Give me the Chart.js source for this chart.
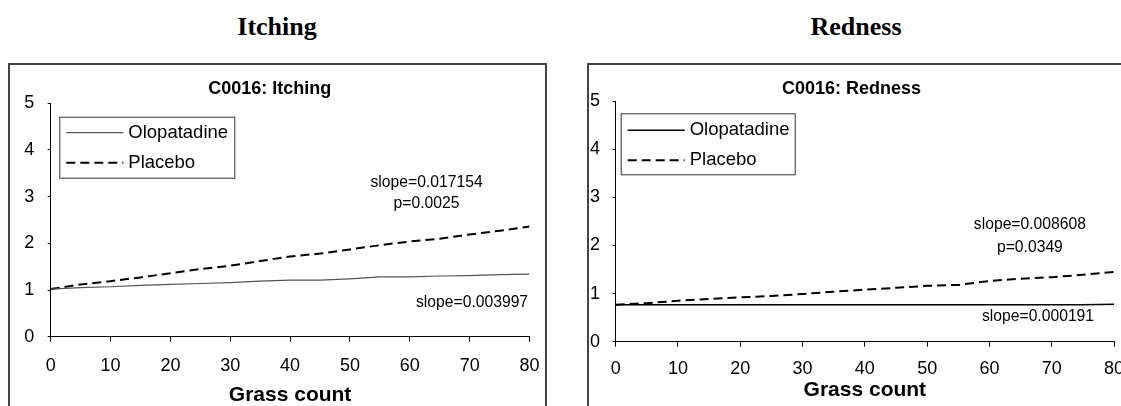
<!DOCTYPE html>
<html>
<head>
<meta charset="utf-8">
<script src="https://cdn.jsdelivr.net/npm/chart.js@4.4.1/dist/chart.umd.min.js"></script>
<style>
  html, body { margin: 0; padding: 0; background: #fff; overflow: hidden; }
  body { width: 1121px; height: 406px; position: relative; }
  .head { position: absolute; top: 12px; width: 300px; line-height: 30px; text-align: center;
    font: bold 26px 'Liberation Serif', 'Times New Roman', serif; color: #000; }
  .box { position: absolute; top: 63px; height: 341px; overflow: hidden;
    border: 2px solid #444; border-bottom: none; }
  canvas { display: block; }
</style>
</head>
<body>
<div class="head" style="left:127px">Itching</div>
<div class="head" style="left:706px">Redness</div>
<div class="box" style="left:8px; width:535px"><canvas id="itching" width="535" height="350"></canvas></div>
<div class="box" style="left:587px; width:532px; border-right:none"><canvas id="redness" width="536" height="350"></canvas></div>
<script>
(() => {
  'use strict'

  // Data
  const grassCount = [0, 5, 10, 15, 20, 25, 30, 35, 40, 45, 50, 55, 60, 65, 70, 75, 80]
  const itchOlopatadine = [1.02, 1.05, 1.07, 1.10, 1.12, 1.14, 1.16, 1.19, 1.21, 1.21, 1.24, 1.28, 1.28, 1.30, 1.31, 1.33, 1.34]
  const itchPlacebo = [1.02, 1.12, 1.19, 1.27, 1.36, 1.45, 1.52, 1.62, 1.72, 1.78, 1.87, 1.96, 2.04, 2.10, 2.19, 2.27, 2.36]
  const rednessOlopatadine = [0.77, 0.77, 0.77, 0.77, 0.77, 0.77, 0.77, 0.77, 0.77, 0.77, 0.77, 0.77, 0.77, 0.77, 0.77, 0.77, 0.78]
  const rednessPlacebo = [0.77, 0.80, 0.85, 0.89, 0.92, 0.95, 0.99, 1.04, 1.08, 1.12, 1.16, 1.18, 1.26, 1.31, 1.34, 1.39, 1.45]
  const grassTicks = [0, 10, 20, 30, 40, 50, 60, 70, 80]
  const scoreTicks = [0, 1, 2, 3, 4, 5]
  const seriesNames = ['Olopatadine', 'Placebo']
  const itchNotes = ['slope=0.017154', 'p=0.0025', 'slope=0.003997']
  const rednessNotes = ['slope=0.008608', 'p=0.0349', 'slope=0.000191']

  const sans = "'Liberation Sans', Arial, sans-serif"
  const placeboDash = [9, 5]

  // legend with a frame, drawn inside the plot area
  const boxLegend = {
    id: 'boxLegend',
    afterDatasetsDraw (chart, args, opts) {
      const { ctx, chartArea } = chart
      const left = chartArea.left + opts.x
      const top = chartArea.top + opts.y
      ctx.save()
      ctx.fillStyle = '#fff'
      ctx.fillRect(left, top, opts.w, opts.h)
      ctx.strokeStyle = '#333'
      ctx.lineWidth = 1
      ctx.strokeRect(left + 0.5, top + 0.5, opts.w, opts.h)
      chart.data.datasets.forEach((ds, i) => {
        const y = top + opts.rows[i]
        ctx.beginPath()
        ctx.strokeStyle = ds.borderColor
        ctx.lineWidth = ds.borderWidth
        ctx.setLineDash(ds.borderDash || [])
        ctx.moveTo(left + 7, y)
        ctx.lineTo(left + 64, y)
        ctx.stroke()
        ctx.setLineDash([])
        ctx.fillStyle = '#000'
        ctx.font = '18.5px ' + sans
        ctx.textBaseline = 'middle'
        ctx.textAlign = 'left'
        ctx.fillText(ds.label, left + 69, y)
      })
      ctx.restore()
    }
  }

  // slope / p texts, placed in data units
  const notes = {
    id: 'notes',
    afterDatasetsDraw (chart, args, opts) {
      const { ctx, scales } = chart
      ctx.save()
      ctx.fillStyle = '#000'
      ctx.font = '15.7px ' + sans
      ctx.textAlign = 'center'
      ctx.textBaseline = 'middle'
      opts.items.forEach(n => {
        ctx.fillText(n.text, scales.x.getPixelForValue(n.x), scales.y.getPixelForValue(n.y))
      })
      ctx.restore()
    }
  }

  function makeChart (id, oloValues, plaValues, cfg) {
    return new Chart(document.getElementById(id), {
      type: 'line',
      data: {
        datasets: [{
          label: seriesNames[0],
          data: grassCount.map((g, i) => ({ x: g, y: oloValues[i] })),
          borderColor: cfg.oloColor,
          borderWidth: cfg.oloWidth,
          pointRadius: 0,
          tension: 0
        }, {
          label: seriesNames[1],
          data: grassCount.map((g, i) => ({ x: g, y: plaValues[i] })),
          borderColor: '#000',
          borderWidth: 2,
          borderDash: placeboDash,
          pointRadius: 0,
          tension: 0
        }]
      },
      options: {
        responsive: false,
        animation: false,
        events: [],
        layout: { padding: { left: 0, right: cfg.padRight, top: 0, bottom: 0 } },
        plugins: {
          legend: { display: false },
          tooltip: { enabled: false },
          title: {
            display: true,
            text: cfg.title,
            color: '#000',
            font: { family: sans, size: 18, weight: 'bold' },
            padding: { top: 13.7, bottom: cfg.titleGap }
          },
          boxLegend: cfg.legend,
          notes: { items: cfg.notes }
        },
        scales: {
          x: {
            type: 'linear',
            min: 0,
            max: 80,
            afterBuildTicks: s => { s.ticks = grassTicks.map(v => ({ value: v })) },
            // fixed size; drop the extra side padding the tick labels would ask for
            afterFit: s => { s.height = cfg.xHeight; s.paddingLeft = 0; s.paddingRight = 0 },
            grid: { drawOnChartArea: false, color: '#000', tickLength: 5 },
            border: { color: '#000', width: 1 },
            ticks: { color: '#000', padding: cfg.xTickPad, maxRotation: 0, font: { family: sans, size: 18 } },
            title: {
              display: true,
              text: 'Grass count',
              color: '#000',
              font: { family: sans, size: 21, weight: 'bold' },
              padding: { top: 0, bottom: cfg.xTitlePad }
            }
          },
          y: {
            min: 0,
            max: 5,
            afterBuildTicks: s => { s.ticks = scoreTicks.map(v => ({ value: v })) },
            afterFit: s => { s.width = cfg.yWidth; s.paddingTop = 0; s.paddingBottom = 0 },
            grid: { drawOnChartArea: false, color: '#000', tickLength: 3 },
            border: { color: '#000', width: 1 },
            ticks: { color: '#000', padding: cfg.yTickPad, font: { family: sans, size: 18 } }
          }
        }
      },
      plugins: [boxLegend, notes]
    })
  }

  makeChart('itching', itchOlopatadine, itchPlacebo, {
    title: 'C0016: Itching',
    oloColor: '#555',
    oloWidth: 1.2,
    padRight: 15.5,
    titleGap: 3,
    xHeight: 78.3,
    xTickPad: 13.5,
    xTitlePad: 7.4,
    yWidth: 40.7,
    yTickPad: 13.4,
    legend: { x: 8.6, y: 13.4, w: 175, h: 61, rows: [16, 46] },
    notes: [
      { text: itchNotes[0], x: 62.8, y: 3.30 },
      { text: itchNotes[1], x: 62.8, y: 2.86 },
      { text: itchNotes[2], x: 70.4, y: 0.72 }
    ]
  })

  makeChart('redness', rednessOlopatadine, rednessPlacebo, {
    title: 'C0016: Redness',
    oloColor: '#000',
    oloWidth: 1.5,
    padRight: 11,
    titleGap: 0.7,
    xHeight: 73.3,
    xTickPad: 11.8,
    xTitlePad: 12,
    yWidth: 26.7,
    yTickPad: 12.7,
    legend: { x: 5, y: 12.3, w: 174, h: 61, rows: [17, 47] },
    notes: [
      { text: rednessNotes[0], x: 66.5, y: 2.43 },
      { text: rednessNotes[1], x: 66.5, y: 1.95 },
      { text: rednessNotes[2], x: 67.8, y: 0.52 }
    ]
  })
})()
</script>
</body>
</html>
